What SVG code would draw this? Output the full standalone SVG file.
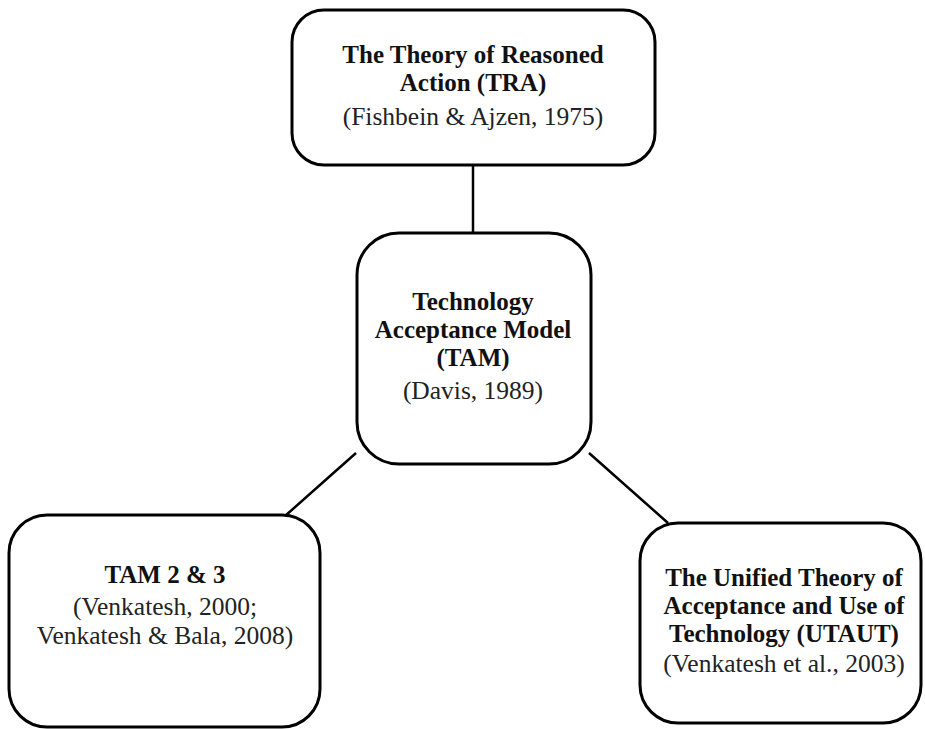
<svg xmlns="http://www.w3.org/2000/svg" width="925" height="729" viewBox="0 0 925 729">
<style>
.box{fill:#fff;stroke:#000;stroke-width:3}
.b{font-family:"Liberation Serif","Times New Roman",serif;font-size:25px;font-weight:bold;text-anchor:middle;fill:#111}
.r{font-family:"Liberation Serif","Times New Roman",serif;font-size:25.5px;text-anchor:middle;fill:#222}
.ln{stroke:#000;stroke-width:2.5;fill:none}
</style>
<rect width="925" height="729" fill="#fff"/>
<g id="connectors">
<line class="ln" x1="473" y1="165" x2="473" y2="233"/>
<line class="ln" x1="356" y1="453" x2="285" y2="516"/>
<line class="ln" x1="589" y1="453" x2="668" y2="523"/>
</g>
<g id="tra">
<rect class="box" x="292" y="10" width="363" height="155" rx="32"/>
<text class="b" x="473" y="63">The Theory of Reasoned</text>
<text class="b" x="473" y="91">Action (TRA)</text>
<text class="r" x="473" y="125">(Fishbein &amp; Ajzen, 1975)</text>
</g>
<g id="tam">
<rect class="box" x="357" y="233" width="234" height="231" rx="42"/>
<text class="b" x="473" y="310">Technology</text>
<text class="b" x="473" y="338">Acceptance Model</text>
<text class="b" x="473" y="366">(TAM)</text>
<text class="r" x="473" y="399">(Davis, 1989)</text>
</g>
<g id="tam23">
<rect class="box" x="9" y="515" width="311" height="212" rx="38"/>
<text class="b" x="165" y="583">TAM 2 &amp; 3</text>
<text class="r" x="165" y="615">(Venkatesh, 2000;</text>
<text class="r" x="165" y="644">Venkatesh &amp; Bala, 2008)</text>
</g>
<g id="utaut">
<rect class="box" x="640" y="523" width="281" height="200" rx="38"/>
<text class="b" x="784" y="586">The Unified Theory of</text>
<text class="b" x="784" y="614">Acceptance and Use of</text>
<text class="b" x="784" y="642">Technology (UTAUT)</text>
<text class="r" x="784" y="672">(Venkatesh et al., 2003)</text>
</g>
</svg>
